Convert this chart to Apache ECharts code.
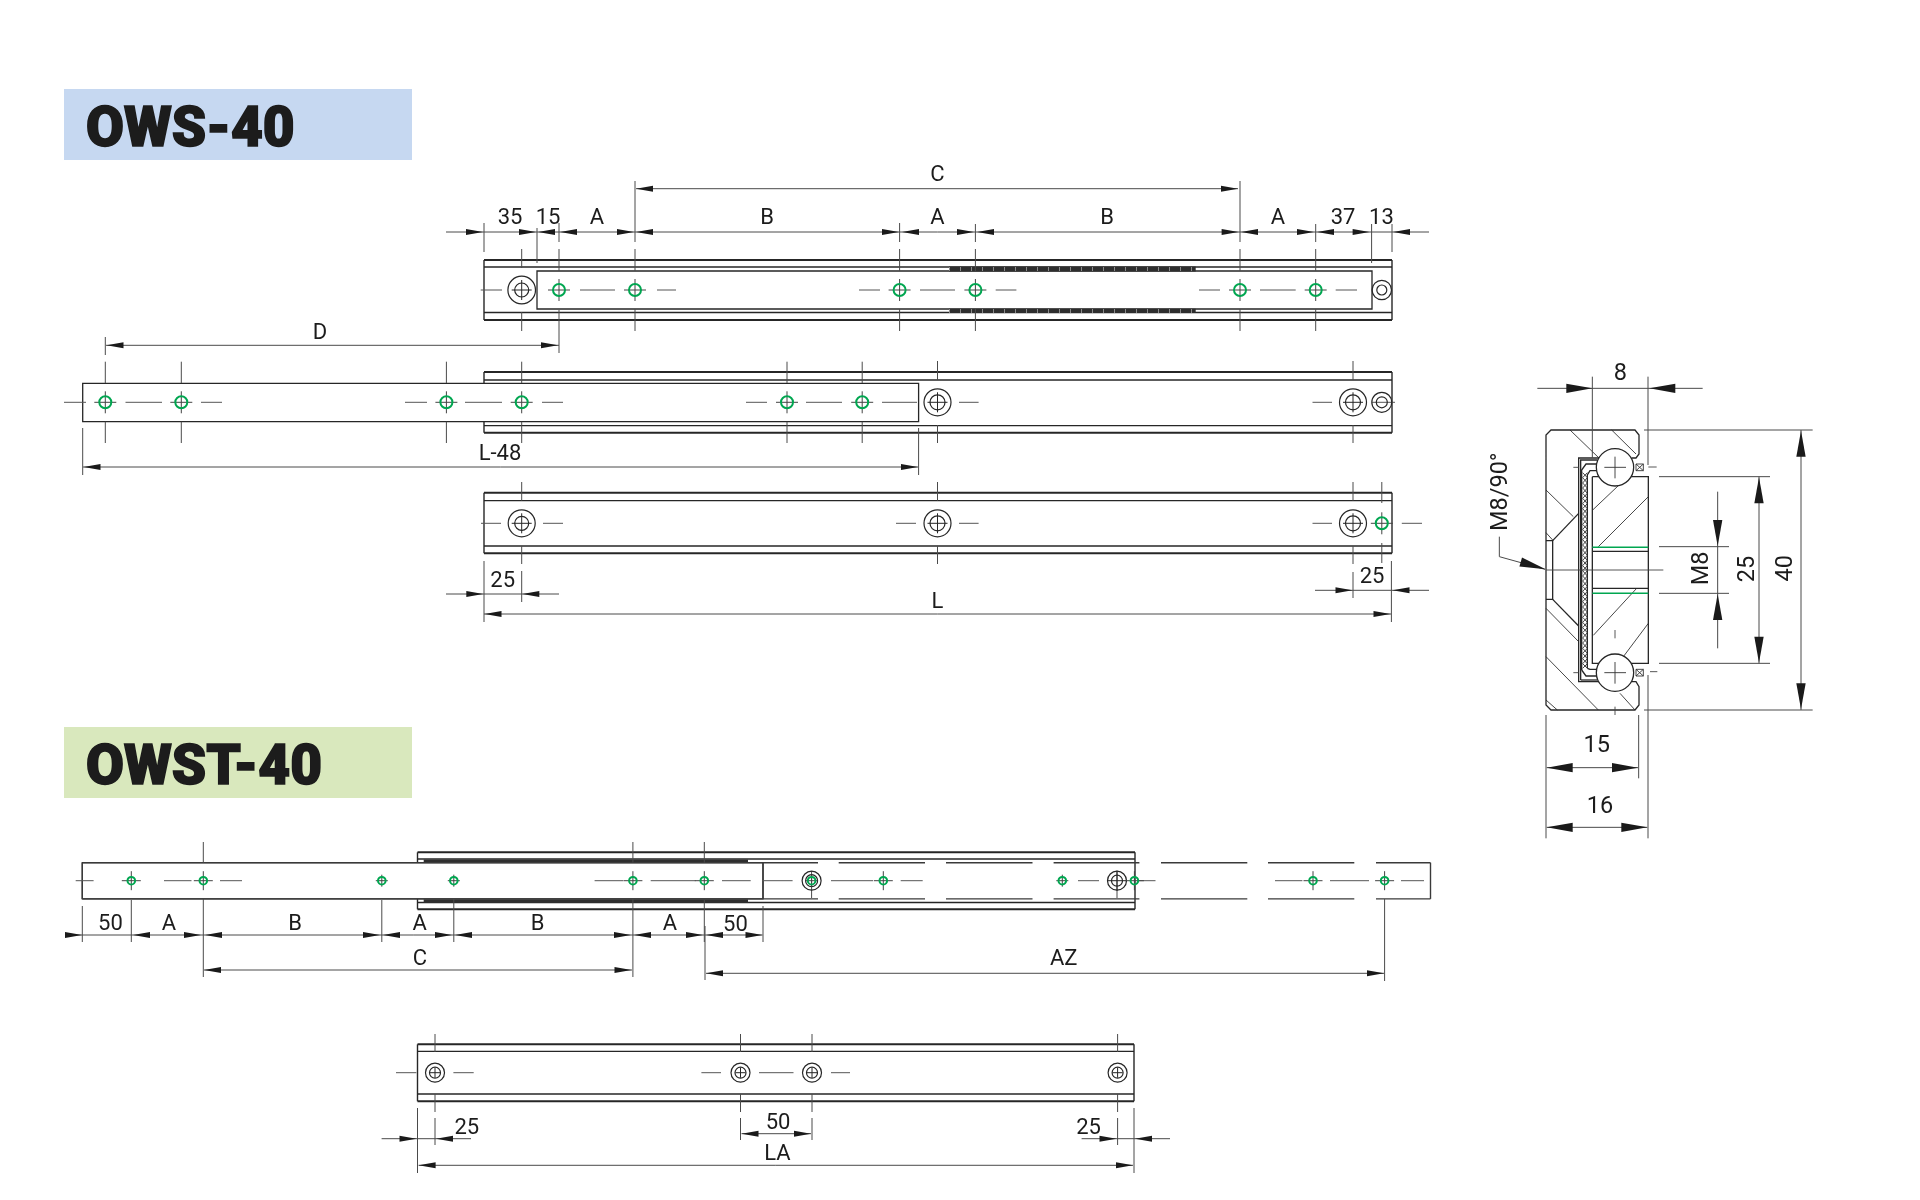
<!DOCTYPE html>
<html>
<head>
<meta charset="utf-8">
<title>OWS-40 / OWST-40</title>
<script src="https://cdn.jsdelivr.net/npm/echarts@6/dist/echarts.min.js"></script>
<style>
  html, body { margin: 0; padding: 0; background: #fff; }
  #chart { width: 1920px; height: 1200px; }
</style>
</head>
<body>
<div id="chart"></div>
<script>
// side views, values are read in the 1920x1200 frame
const panels = [[64, 89, 412, 160, '#c6d8f1'], [64, 727, 412, 798, '#d9e8bd']]
const titles = [['OWS-40', 86, 126], ['OWST-40', 86, 764]]

const railRows = [
  [484, 1392, 260, 267, 312.5, 320],
  [484, 1392, 372, 380, 425.7, 432.7],
  [484, 1392, 492.7, 500.7, 546, 553.3],
  [417.5, 1135, 852.3, 859, 902.5, 909.3],
  [417.5, 1134, 1044.3, 1051.3, 1094, 1101.3]
]
const darkStrips = [
  [949, 266.5, 1195.7, 271.5], [949, 308.8, 1195.7, 313],
  [423.7, 859.5, 748, 862.7], [423.7, 899.3, 748, 903]
]
const slideBoxes = [[537, 271, 1372, 309], [82.7, 383.3, 918.6, 421.7], [82.3, 862.7, 763, 898.9]]
const owstSlide = [
  [82.3, 862.7, 818, 862.7], [82.3, 898.9, 818, 898.9],
  [82.3, 862.7, 82.3, 898.9], [763, 862.7, 763, 898.9], [1430.5, 862.7, 1430.5, 898.9],
  [838.7, 862.7, 925, 862.7], [946, 862.7, 1032.5, 862.7], [1053.6, 862.7, 1139.4, 862.7],
  [1161, 862.7, 1247.3, 862.7], [1268, 862.7, 1354.3, 862.7], [1376, 862.7, 1430.5, 862.7],
  [838.7, 898.9, 925, 898.9], [946, 898.9, 1032.5, 898.9], [1053.6, 898.9, 1139.4, 898.9],
  [1161, 898.9, 1247.3, 898.9], [1268, 898.9, 1354.3, 898.9], [1376, 898.9, 1430.5, 898.9]
]

// [y, dash from, dash to, ...]
const centreDashes = [
  [290, 480.7, 502, 580, 615, 657, 676, 859, 880, 920, 955, 995.7, 1016.4, 1199, 1220, 1260, 1295.7, 1335.7, 1357],
  [402.3, 64, 86, 125.5, 162, 201, 222, 405, 427, 465, 502, 542, 563, 746, 767, 806, 842, 882, 917, 959, 978.6, 1312.5, 1332, 1372, 1395],
  [523.3, 481, 501, 543, 563, 896, 916, 959, 978.6, 1312.5, 1332, 1401.8, 1422],
  [880.7, 75.7, 93.6, 164, 191.5, 220, 242, 594.6, 623, 650.7, 695.6, 722, 750.7, 762, 792.6, 831, 873, 900.7, 922.7, 1078, 1099, 1139, 1155.5, 1275, 1302.4, 1330, 1369, 1401, 1424],
  [1072.7, 396, 416.4, 453.4, 473.7, 701.4, 721, 759, 793.5, 831, 850]
]
// [x, y from, y to]
const centreTicks = [
  [521.7, 249, 268], [521.7, 312, 331], [559, 249, 271], [635, 249, 271], [635, 309, 331],
  [899.6, 249, 271], [899.6, 309, 331], [975.4, 249, 271], [975.4, 309, 331],
  [1240, 249, 271], [1240, 309, 331], [1315.7, 249, 271], [1315.7, 309, 331],
  [105.3, 361.7, 383], [105.3, 421.7, 443], [181.3, 361.7, 383], [181.3, 421.7, 443],
  [446.4, 361.7, 383], [446.4, 421.7, 443], [521.7, 361.7, 383], [521.7, 421.7, 443],
  [787, 361.7, 383], [787, 421.7, 443], [862.2, 361.7, 383], [862.2, 421.7, 443],
  [937.5, 361, 380], [937.5, 425, 443], [1353, 361, 380], [1353, 425, 443],
  [521.7, 482, 500.7], [521.7, 546, 564], [937.5, 482, 500.7], [937.5, 546, 564],
  [1353, 482, 500.7], [1353, 546, 564], [1381.8, 482, 503], [1381.8, 543, 563],
  [203.3, 842, 862.7], [632.9, 842, 862.7], [704.3, 842, 862.7],
  [811.6, 871, 898], [1117, 871, 898],
  [435, 1034, 1052], [435, 1094, 1112], [740.5, 1034, 1052], [740.5, 1094, 1112],
  [812, 1034, 1052], [812, 1094, 1112], [1117.6, 1034, 1052], [1117.6, 1094, 1112]
]

// [y, radius, arm, x...]
const holeRows = [
  [290, 6, 11, 559, 635, 899.6, 975.4, 1240, 1315.7],
  [402.3, 6, 11, 105.3, 181.3, 446.4, 521.7, 787, 862.2],
  [523.3, 6, 11, 1381.8],
  [880.7, 3.8, 9.5, 131.3, 203.3, 632.9, 704.3, 883.3, 1134.4, 1313, 1384.6],
  [880.7, 3.8, 6, 381.8, 453.8, 811.6, 1062.3]
]
// [x, y, outer, inner, cross arm]
const screws = [
  [521.7, 290, 13.8, 7, 10], [1381.8, 290, 9.7, 5, 0],
  [937.5, 402.3, 13.5, 7.5, 10], [1353, 402.3, 13.5, 7.5, 10], [1381.8, 402.3, 10, 5.5, 0],
  [521.7, 523.3, 13.5, 7, 10], [937.5, 523.3, 13.5, 7.5, 10], [1353, 523.3, 13.5, 7.5, 10],
  [811.6, 880.7, 9.5, 6, 0], [1117, 880.7, 9.5, 5.5, 10],
  [435, 1072.7, 9.5, 5.5, 5], [740.5, 1072.7, 9.5, 5.5, 5], [812, 1072.7, 9.5, 5.5, 5], [1117.6, 1072.7, 9.5, 5.5, 5]
]

// [y, x from, x to]
const dimLines = [
  [232, 446, 1429], [188.7, 636, 1238], [345.3, 106, 559], [467, 83, 918],
  [594, 446, 559], [590.3, 1315, 1429], [614, 484, 1391],
  [935, 65, 762.5], [970, 204, 632], [973.3, 706, 1384],
  [1138.7, 381.6, 471], [1138.7, 1081.6, 1170], [1133.7, 741.5, 811], [1165.3, 418.6, 1133]
]
const dimExtensions = [
  [484, 223, 252], [537, 228, 263], [559, 223, 242], [635, 181, 242], [899.6, 223, 242],
  [975.4, 224, 242], [1240, 181, 242], [1315.7, 224, 242], [1371.6, 224, 263], [1392, 224, 252],
  [105.3, 337, 355], [559, 310, 353], [82.7, 428, 475], [918.6, 428, 475],
  [484, 561, 622], [521.7, 571, 602], [1353, 572, 598], [1391.4, 561, 622],
  [82.3, 906, 942], [131.3, 900, 942], [203.3, 899, 977], [381.8, 900, 942], [453.8, 899, 942],
  [632.9, 899, 977], [704.3, 900, 942], [705, 926, 980], [763, 906, 942], [1384.6, 899, 981],
  [417.5, 1108, 1173], [435, 1118, 1145], [1117.6, 1118, 1145], [1134, 1108, 1173],
  [740.5, 1118, 1140], [812, 1118, 1140]
]
// [y, tips pointing right, tips pointing left]
const arrowRows = [
  [232, [483, 536, 634, 899, 974, 1238.6, 1314, 1369.6], [538, 560, 636, 902, 977, 1241, 1317, 1393]],
  [188.7, [1238], [636]],
  [345.3, [558], [106.5]],
  [467, [918], [83.5]],
  [594, [483.3], [522.3]],
  [590.3, [1352.5], [1392.5]],
  [614, [1390.5], [484.5]],
  [935, [82, 201, 380, 452, 631, 703, 762.5], [133, 205, 383, 455, 634, 706]],
  [970, [631.5], [204]],
  [973.3, [1384], [706]],
  [1138.7, [416.5, 1116.5], [436, 1135]],
  [1133.7, [811], [741.5]],
  [1165.3, [1133], [418.6]]
]
const dimLabels = [
  ['35', 510, 216.5], ['15', 548, 216.5], ['A', 597, 216.5], ['B', 767, 216.5], ['A', 937.5, 216.5],
  ['B', 1107, 216.5], ['A', 1278, 216.5], ['37', 1343, 216.5], ['13', 1381.4, 216.5], ['C', 937.5, 173.5],
  ['D', 320, 331], ['L-48', 500, 452], ['25', 502.7, 579], ['25', 1372, 575], ['L', 937.5, 600],
  ['50', 110.4, 921.7], ['A', 169, 921.7], ['B', 295, 921.7], ['A', 419.6, 921.7], ['B', 537.5, 921.7],
  ['A', 670, 921.7], ['50', 735.4, 922.7], ['C', 420, 957], ['AZ', 1063.7, 957.5],
  ['25', 466.8, 1126], ['25', 1088.6, 1126], ['50', 778, 1120.7], ['LA', 777.4, 1151.7]
]

// cross section, in its own axes (1140 x 1560 units over 380 x 520 px)
const sectionOutline = [
  [[358, 354], [296, 354], [296, 1025], [358, 1025]],
  [[455, 354], [468, 354], [477, 342], [477, 285], [465, 270], [213, 270], [198, 285], [198, 1095], [213, 1110], [465, 1110], [477, 1095], [477, 1040], [468, 1025], [455, 1025]],
  [[337, 410], [505, 410], [505, 970], [337, 970], [337, 410]],
  [[302, 1020], [302, 360], [352, 360]], [[302, 1020], [352, 1020]],
  [[305, 990], [305, 390], [318, 372], [355, 372]], [[305, 990], [318, 1008], [355, 1008]],
  [[322, 985], [322, 405], [330, 392], [352, 392]], [[322, 985], [330, 988], [352, 988]],
  [[198, 602], [218, 602], [218, 778], [198, 778]],
  [[218, 602], [296, 520]], [[218, 778], [296, 858]],
  [[337, 634], [505, 634]], [[337, 745], [505, 745]]
]
const sectionGreen = [[[337, 622], [505, 622]], [[337, 760], [505, 760]]]
const sectionHatch = [
  [[270, 270], [358, 355]], [[395, 270], [468, 342]], [[198, 450], [280, 530]], [[198, 578], [218, 600]],
  [[198, 805], [296, 905]], [[198, 950], [355, 1110]], [[198, 1080], [232, 1110]], [[420, 1060], [465, 1110]],
  [[338, 510], [415, 437]], [[355, 620], [505, 470]], [[340, 886], [470, 745]], [[415, 970], [505, 850]]
]
const sectionThin = [
  [[198, 690], [550, 690]], [[280, 382], [296, 382]], [[280, 998], [296, 998]],
  [[405, 870], [405, 895]], [[405, 1100], [405, 1125]], [[505, 381], [530, 381]], [[510, 995], [532, 995]]
]
const zigzagY = [398, 413, 429, 444, 460, 475, 491, 506, 522, 537, 553, 568, 584, 599, 615, 630, 646, 661, 677, 692, 708, 723, 739, 754, 770, 785, 801, 816, 832, 847, 863, 878, 894, 909, 925, 940, 956, 971, 985]
const balls = [[405, 382, 56, 373, 438], [405, 998, 56, 373, 438]]
const seals = [[468, 372, 490, 392], [468, 988, 490, 1008]]
const sectionDims = [
  [[172, 145], [668, 145]], [[337, 110], [337, 354]], [[504, 110], [504, 375]], [[504, 1005], [504, 1495]],
  [[492, 270], [998, 270]], [[492, 1110], [998, 1110]], [[963, 270], [963, 1110]],
  [[537, 410], [870, 410]], [[537, 970], [870, 970]], [[837, 410], [837, 970]],
  [[537, 620], [747, 620]], [[537, 760], [747, 760]], [[713, 455], [713, 925]],
  [[198, 1125], [198, 1495]], [[476, 1125], [476, 1315]], [[200, 1283], [474, 1283]], [[200, 1462], [502, 1462]],
  [[58, 590], [58, 650], [195, 688]]
]
// [tip x, tip y, direction x, direction y]
const sectionArrows = [
  [337, 145, 1, 0], [508, 145, -1, 0], [963, 272, 0, -1], [963, 1108, 0, 1],
  [837, 412, 0, -1], [837, 968, 0, 1], [713, 618, 0, 1], [713, 762, 0, -1],
  [200, 1283, -1, 0], [474, 1283, 1, 0], [200, 1462, -1, 0], [502, 1462, 1, 0], [197, 688, 0.96, 0.28]
]
// [text, x, y, rotated]
const sectionLabels = [
  ['8', 421, 95, 0], ['15', 350, 1210, 0], ['16', 360, 1395, 0],
  ['M8', 660, 685, 1], ['25', 797, 687, 1], ['40', 912, 685, 1], ['M8/90°', 55, 455, 1]
]

const INK = '#262626'
const DIM = '#4a4a4a'
const GREEN = '#00a650'

const line = (api, points, color, width, dash) => ({
  type: 'polyline',
  shape: { points: points.map(p => api.coord(p)) },
  style: { stroke: color, lineWidth: width, fill: null, lineDash: dash || null }
})

const box = (api, x1, y1, x2, y2, fill, stroke, width) => {
  const a = api.coord([x1, y1])
  const b = api.coord([x2, y2])
  return {
    type: 'rect',
    shape: { x: a[0], y: a[1], width: b[0] - a[0], height: b[1] - a[1] },
    style: { fill, stroke: stroke || null, lineWidth: width || 0 }
  }
}

const arrowHead = (api, tip, dir, len, half) => {
  const tail = [tip[0] - dir[0] * len, tip[1] - dir[1] * len]
  return {
    type: 'polygon',
    shape: {
      points: [
        tip,
        [tail[0] - dir[1] * half, tail[1] + dir[0] * half],
        [tail[0] + dir[1] * half, tail[1] - dir[0] * half]
      ].map(p => api.coord(p))
    },
    style: { fill: '#1a1a1a' }
  }
}

const ring = (api, x, y, r, color, width, fill) => {
  const c = api.coord([x, y])
  return {
    type: 'circle',
    shape: { cx: c[0], cy: c[1], r: api.size([r, r])[0] },
    style: { stroke: color, lineWidth: width, fill: fill || null }
  }
}

// Roboto sits a bit high in its line box, push it down along the text's own down side
const label = (api, text, x, y, size, rotated, weight) => {
  const c = api.coord([x, y])
  const drop = size * 0.11
  return {
    type: 'text',
    x: c[0] + (rotated ? drop : 0),
    y: c[1] + (rotated ? 0 : drop),
    rotation: rotated ? Math.PI / 2 : 0,
    style: {
      text,
      fill: '#1c1c1c',
      align: 'center',
      verticalAlign: 'middle',
      fontFamily: 'Roboto',
      fontSize: size,
      fontWeight: weight || 400
    }
  }
}

const layer = (name, items, draw, view) => ({
  type: 'custom',
  name,
  coordinateSystem: 'cartesian2d',
  xAxisIndex: view || 0,
  yAxisIndex: view || 0,
  silent: true,
  animation: false,
  clip: false,
  data: items.map((_, i) => [i, i]),
  encode: { x: 0, y: 1 },
  renderItem: (params, api) => draw(items[params.dataIndex], api)
})

const railItems = railRows.flatMap(([x1, x2, y1, y2, y3, y4]) => [
  [[x1, y1], [x2, y1], 2], [[x1, y2], [x2, y2], 1.3], [[x1, y3], [x2, y3], 1.3], [[x1, y4], [x2, y4], 2],
  [[x1, y1], [x1, y4], 1.4], [[x2, y1], [x2, y4], 1.4]
])
const dashItems = centreDashes.flatMap(([y, ...xs]) =>
  xs.filter((_, i) => i % 2 === 0).map((x, i) => [[x, y], [xs[i * 2 + 1], y]]))
const holeItems = holeRows.flatMap(([y, r, arm, ...xs]) => xs.map(x => [x, y, r, arm]))
const arrowItems = arrowRows.flatMap(([y, right, left]) => [
  ...right.map(x => [x, y, 1]), ...left.map(x => [x, y, -1])
])
const zigzags = [
  zigzagY.map((y, i) => [i % 2 ? 308 : 322, y]),
  zigzagY.map((y, i) => [i % 2 ? 322 : 308, y])
]
const ballCrosses = balls.flatMap(([x, y, , a, b]) => [[[a, y], [b, y]], [[x, y - 32], [x, y + 33]]])
const sealItems = seals.flatMap(([a, b, c, d]) => [
  [[a, b], [c, b], [c, d], [a, d], [a, b]], [[a, b], [c, d]], [[a, d], [c, b]]
])

const option = {
  backgroundColor: '#fff',
  animation: false,
  tooltip: { show: false },
  legend: { show: false },
  grid: [
    { left: 0, top: 0, width: 1920, height: 1200 },
    { left: 1480, top: 340, width: 380, height: 520 }
  ],
  xAxis: [
    { type: 'value', min: 0, max: 1920, show: false, gridIndex: 0 },
    { type: 'value', min: 0, max: 1140, show: false, gridIndex: 1 }
  ],
  yAxis: [
    { type: 'value', min: 0, max: 1200, inverse: true, show: false, gridIndex: 0 },
    { type: 'value', min: 0, max: 1560, inverse: true, show: false, gridIndex: 1 }
  ],
  series: [
    layer('panels', panels, (p, api) => box(api, p[0], p[1], p[2], p[3], p[4])),
    layer('titles', titles, (t, api) => {
      const el = label(api, t[0], t[1], t[2], 55, false, 900)
      el.style.align = 'left'
      el.style.stroke = '#1c1c1c'
      el.style.lineWidth = 1.6
      return el
    }),
    layer('rails', railItems, (r, api) => line(api, [r[0], r[1]], INK, r[2])),
    layer('slides', slideBoxes, (s, api) => box(api, s[0], s[1], s[2], s[3], '#fff', INK, 1.3)),
    layer('strips', darkStrips, (s, api) => box(api, s[0], s[1], s[2], s[3], '#2e2e2e')),
    layer('strip teeth', darkStrips.slice(0, 2), (s, api) =>
      line(api, [[s[0], (s[1] + s[3]) / 2], [s[2], (s[1] + s[3]) / 2]], '#8a8a8a', 4, [1, 10])),
    layer('owst slide', owstSlide, (s, api) => line(api, [[s[0], s[1]], [s[2], s[3]]], '#3a3a3a', 1.4)),
    layer('centre dashes', dashItems, (d, api) => line(api, d, '#555', 1)),
    layer('centre ticks', centreTicks, (t, api) => line(api, [[t[0], t[1]], [t[0], t[2]]], DIM, 1)),
    layer('screws', screws, (s, api) => ({
      type: 'group',
      children: [
        ring(api, s[0], s[1], s[2], INK, 1.2),
        ring(api, s[0], s[1], s[3], INK, 1.2),
        ...(s[4] ? [
          line(api, [[s[0] - s[4], s[1]], [s[0] + s[4], s[1]]], INK, 1),
          line(api, [[s[0], s[1] - s[4]], [s[0], s[1] + s[4]]], INK, 1)
        ] : [])
      ]
    })),
    layer('holes', holeItems, (h, api) => ({
      type: 'group',
      children: [
        line(api, [[h[0] - h[3], h[1]], [h[0] + h[3], h[1]]], '#444', 1),
        line(api, [[h[0], h[1] - h[3]], [h[0], h[1] + h[3]]], '#444', 1),
        ring(api, h[0], h[1], h[2], GREEN, 2)
      ]
    })),
    layer('dim lines', dimLines, (d, api) => line(api, [[d[1], d[0]], [d[2], d[0]]], DIM, 1)),
    layer('dim extensions', dimExtensions, (d, api) => line(api, [[d[0], d[1]], [d[0], d[2]]], DIM, 1)),
    layer('arrows', arrowItems, (a, api) => arrowHead(api, [a[0], a[1]], [a[2], 0], 17, 3)),
    layer('dim labels', dimLabels, (l, api) => label(api, l[0], l[1], l[2], 22)),

    layer('section hatch', sectionHatch, (s, api) => line(api, s, '#333', 0.9), 1),
    layer('section outline', sectionOutline, (s, api) => line(api, s, INK, 1.3), 1),
    layer('section chain', zigzags, (s, api) => line(api, s, '#333', 0.9), 1),
    layer('section green', sectionGreen, (s, api) => line(api, s, GREEN, 1.5), 1),
    layer('section thin', sectionThin, (s, api) => line(api, s, '#444', 0.9), 1),
    layer('balls', balls, (b, api) => ring(api, b[0], b[1], b[2], INK, 1.3, '#fff'), 1),
    layer('ball crosses', ballCrosses, (s, api) => line(api, s, '#333', 0.9), 1),
    layer('seals', sealItems, (s, api) => line(api, s, '#333', 0.9), 1),
    layer('section dims', sectionDims, (s, api) => line(api, s, DIM, 1), 1),
    layer('section arrows', sectionArrows, (a, api) => arrowHead(api, [a[0], a[1]], [a[2], a[3]], 78, 14), 1),
    layer('section labels', sectionLabels, (l, api) => label(api, l[0], l[1], l[2], 23.5, l[3]), 1)
  ]
}

const chart = echarts.init(document.getElementById('chart'))
chart.setOption(option)
</script>
</body>
</html>
